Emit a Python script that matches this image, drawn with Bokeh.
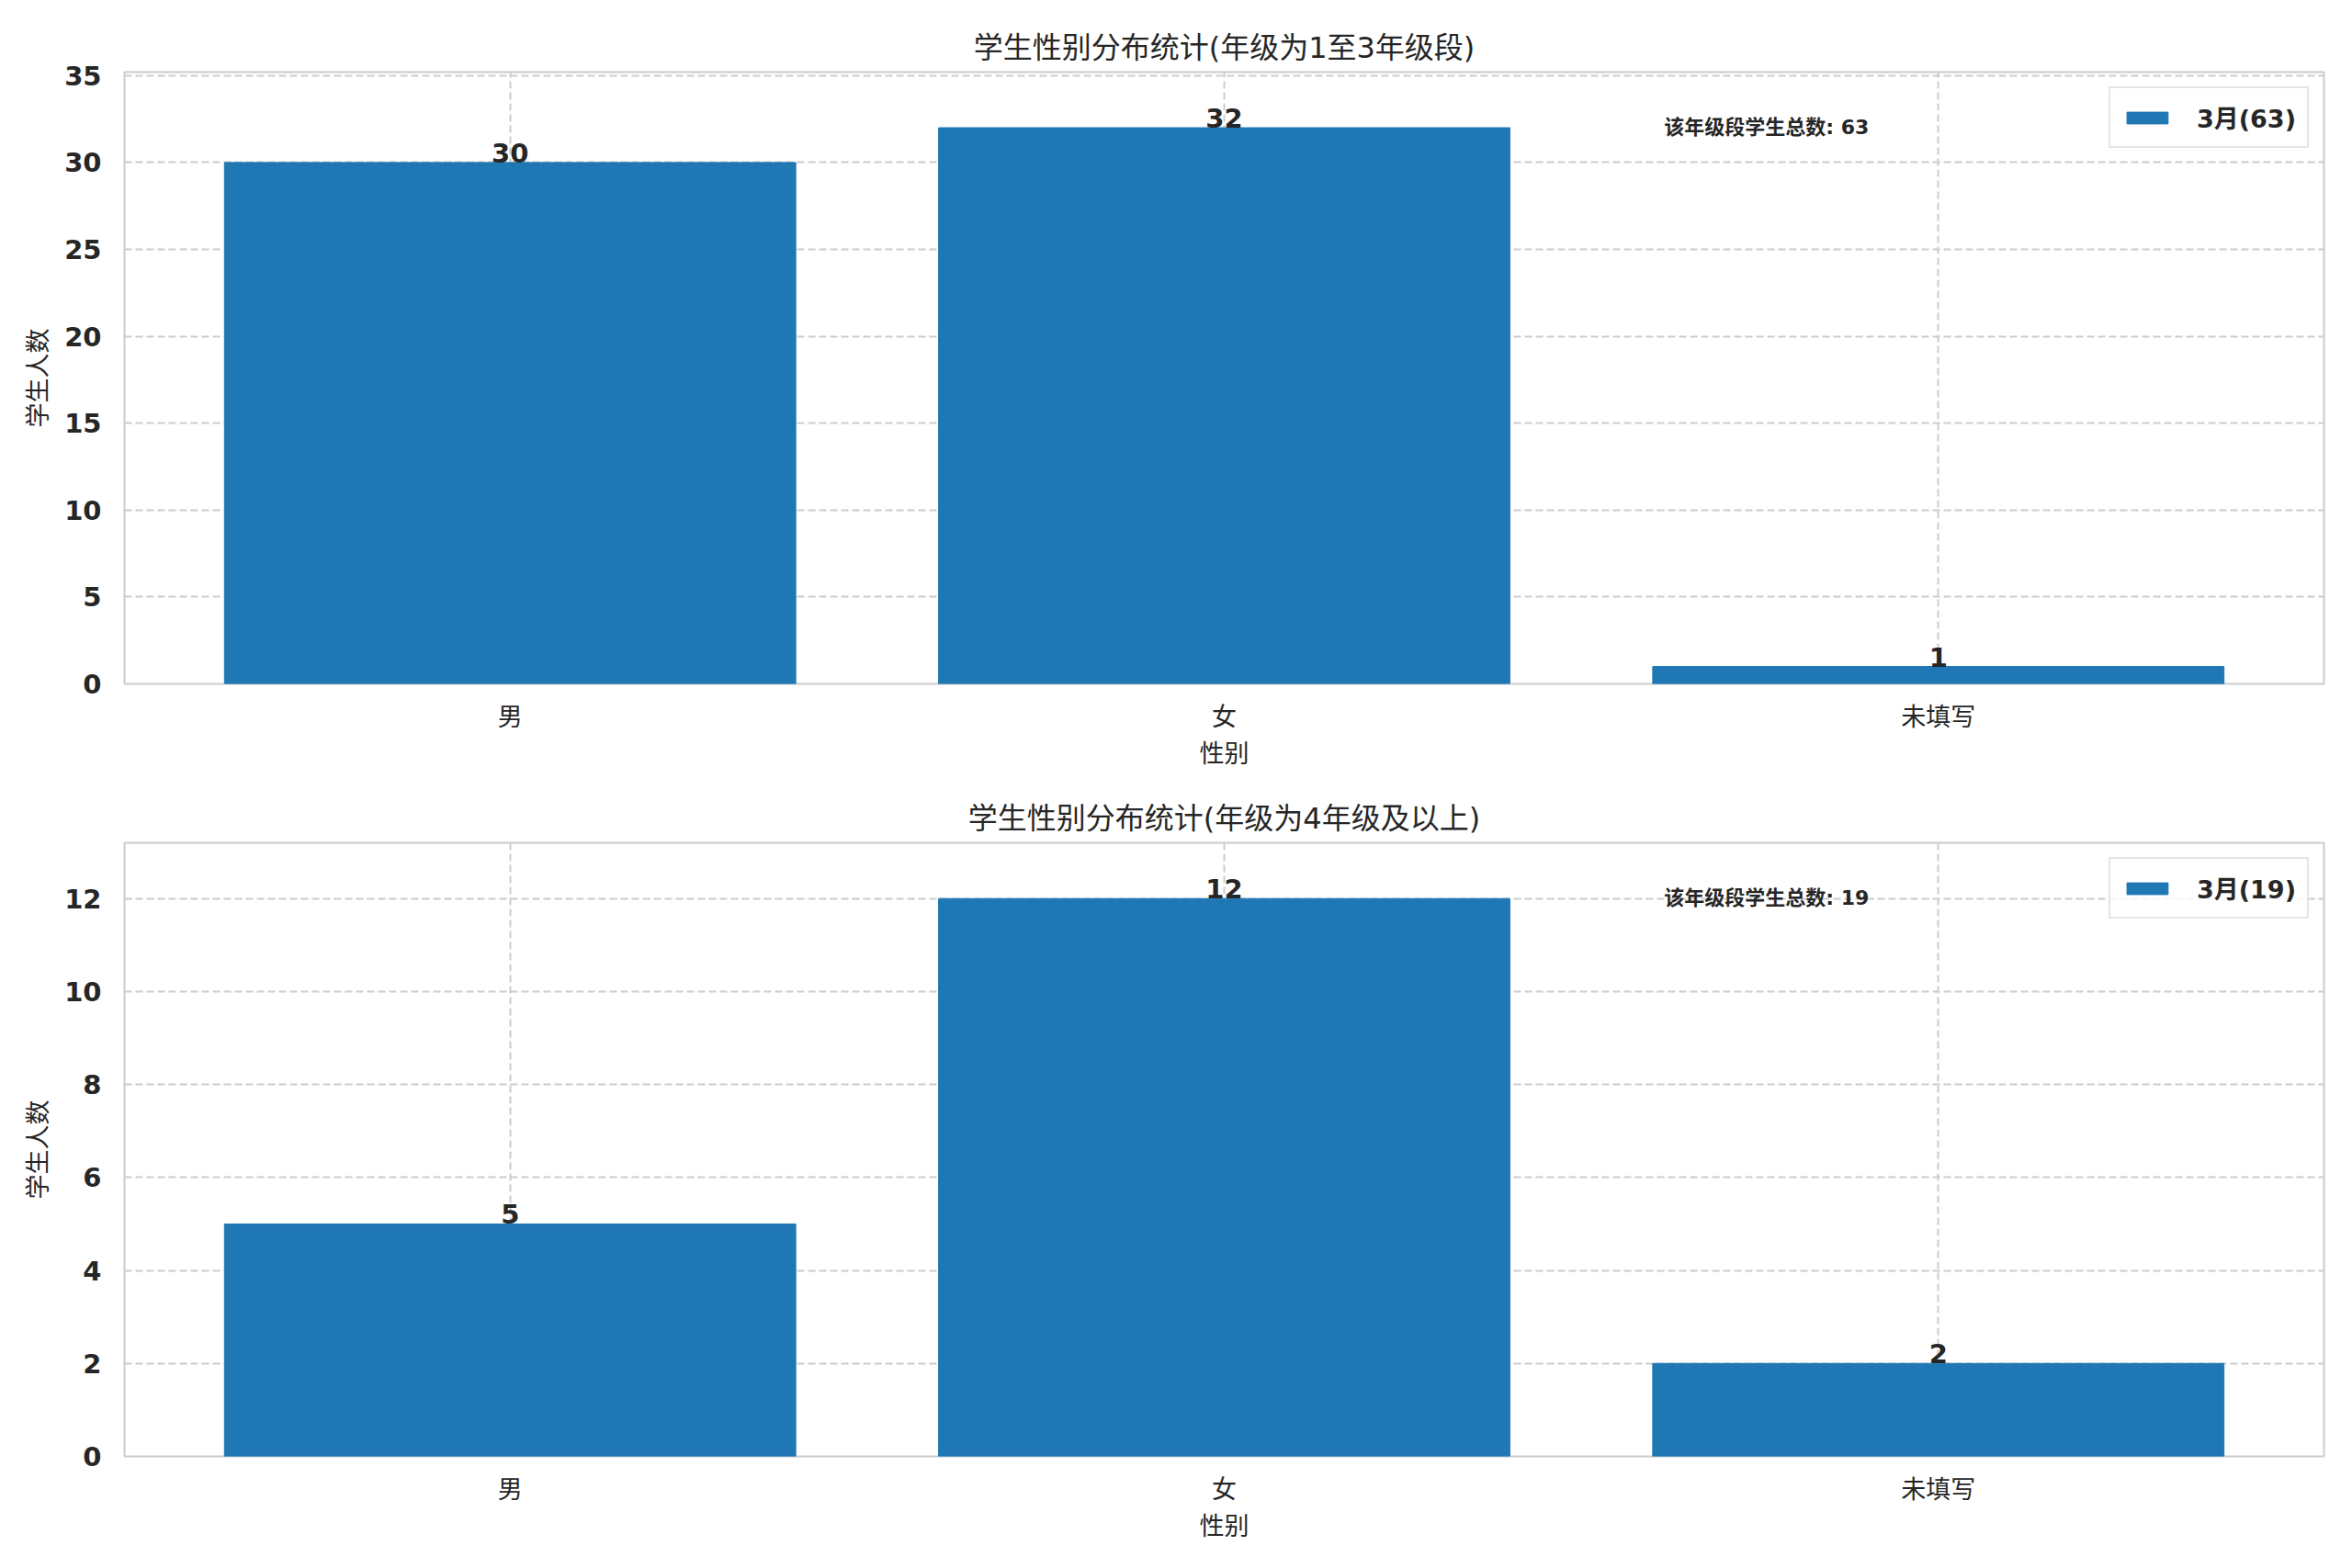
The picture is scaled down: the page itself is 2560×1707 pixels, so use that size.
from bokeh.plotting import figure
from bokeh.models import Range1d, FixedTicker, Label, ColumnDataSource
from bokeh.layouts import column
from bokeh.core.properties import value
from bokeh.embed import file_html
from bokeh.resources import INLINE

# ---- data ----
categories = ["男", "女", "未填写"]
counts_grade_1_3 = [30, 32, 1]
counts_grade_4_up = [5, 12, 2]
title_1_3 = "学生性别分布统计(年级为1至3年级段)"
title_4_up = "学生性别分布统计(年级为4年级及以上)"
x_label = "性别"
y_label = "学生人数"
legend_month = "3月"
total_label = "该年级段学生总数"
yticks_1_3 = [0, 5, 10, 15, 20, 25, 30, 35]
yticks_4_up = [0, 2, 4, 6, 8, 10, 12]

TXT = "#262626"
BAR = "#1f77b4"
GRID = "#cccccc"
MIX = "DejaVu Sans, Noto Sans CJK SC"


def make(vals, title, yticks, height, top, bottom):
    total = sum(vals)
    xr = Range1d(-0.54, len(categories) - 1 + 0.54)
    yr = Range1d(0, max(vals) * 1.1)
    p = figure(width=2560, height=height, output_backend="svg", toolbar_location=None,
               x_range=xr, y_range=yr,
               min_border_left=135, min_border_right=31,
               min_border_top=top, min_border_bottom=bottom)
    p.background_fill_color = "white"
    p.border_fill_color = "white"
    p.outline_line_color = GRID
    p.outline_line_width = 2

    p.title.text = title
    p.title.align = "center"
    p.title.text_font = MIX
    p.title.text_font_size = "32px"
    p.title.text_font_style = "normal"
    p.title.text_color = TXT
    p.title.standoff = 16

    xs = list(range(len(categories)))
    src = ColumnDataSource(dict(x=xs, top=vals, lab=[str(v) for v in vals]))
    p.vbar(x="x", top="top", width=0.8, source=src, fill_color=BAR, line_color=BAR,
           line_width=1, legend_label=f"{legend_month}({total})")
    p.text(x="x", y="top", text="lab", source=src, text_align="center",
           text_baseline="bottom", text_font=value("DejaVu Sans"),
           text_font_style="bold", text_font_size=value("29px"), text_color=TXT)

    lab = Label(x=xr.start + 0.7 * (xr.end - xr.start), y=yr.end * 0.91,
                text=f"{total_label}: {total}", text_font=MIX, text_font_style="bold",
                text_font_size="22px", text_color=TXT, text_baseline="middle",
                text_align="left")
    p.add_layout(lab)

    # axes
    p.xaxis.ticker = FixedTicker(ticks=xs)
    p.xaxis.major_label_overrides = {i: c for i, c in enumerate(categories)}
    p.yaxis.ticker = FixedTicker(ticks=yticks)
    for ax in (p.xaxis, p.yaxis):
        ax.axis_line_color = None
        ax.major_tick_line_color = None
        ax.minor_tick_line_color = None
        ax.major_label_text_color = TXT
        ax.axis_label_text_color = TXT
        ax.axis_label_text_font = MIX
        ax.axis_label_text_font_style = "normal"
        ax.axis_label_text_font_size = "27px"
    p.xaxis.major_label_text_font = MIX
    p.xaxis.major_label_text_font_size = "27px"
    p.xaxis.major_label_standoff = 14
    p.xaxis.axis_label = x_label
    p.xaxis.axis_label_standoff = 6
    p.yaxis.major_label_text_font = "DejaVu Sans"
    p.yaxis.major_label_text_font_style = "bold"
    p.yaxis.major_label_text_font_size = "29px"
    p.yaxis.major_label_standoff = 19
    p.yaxis.axis_label = y_label
    p.yaxis.axis_label_standoff = 10

    for g in (p.xgrid, p.ygrid):
        g.grid_line_color = GRID
        g.grid_line_width = 2
        g.grid_line_dash = "8 4"

    lg = p.legend[0]
    lg.location = "top_right"
    lg.margin = 16
    lg.padding = 12
    lg.spacing = 0
    lg.glyph_width = 56
    lg.glyph_height = 16
    lg.label_standoff = 26
    lg.label_text_font = MIX
    lg.label_text_font_style = "bold"
    lg.label_text_font_size = "27px"
    lg.label_text_color = TXT
    lg.border_line_color = GRID
    lg.border_line_width = 2
    lg.background_fill_alpha = 0.8
    return p


p1 = make(counts_grade_1_3, title_1_3, yticks_1_3, 838, 78, 90)
p2 = make(counts_grade_4_up, title_4_up, yticks_4_up, 869, 79, 122)
layout = column(p1, p2, spacing=0)

open("out.html", "w").write(file_html(layout, INLINE))
